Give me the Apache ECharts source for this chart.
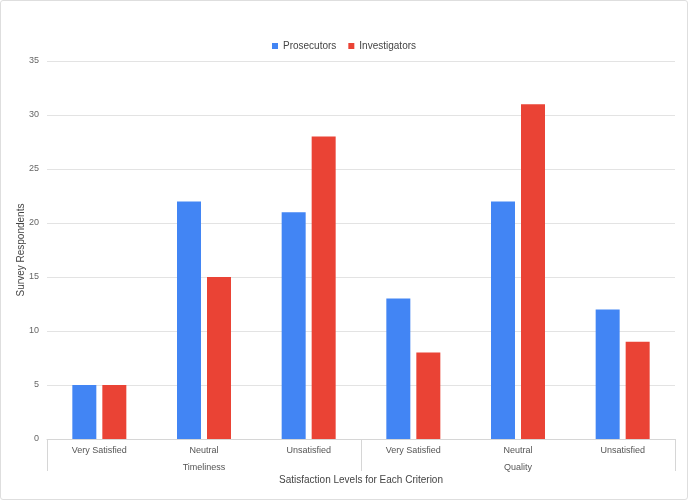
<!DOCTYPE html>
<html><head><meta charset="utf-8">
<script src="https://cdn.jsdelivr.net/npm/echarts@6/dist/echarts.min.js"></script>
<style>
html,body{margin:0;padding:0;background:#fff;}
#c{position:absolute;left:0;top:0;width:686px;height:498px;border:1px solid #dedede;border-radius:3px;}
</style></head>
<body><div id="c"></div>
<script>
const categories = ['Very Satisfied','Neutral','Unsatisfied','Very Satisfied','Neutral','Unsatisfied'];
const groups = ['Timeliness','Quality'];
const prosecutors = [5,22,21,13,22,12];
const investigators = [5,15,28,8,31,9];
const yTicks = [0,5,10,15,20,25,30,35];

const chart = echarts.init(document.getElementById('c'));
const font = '"Liberation Sans", Arial, sans-serif';
chart.setOption({
  animation:false,
  textStyle:{fontFamily:font},
  legend:{top:35,left:'center',itemWidth:6,itemHeight:6,itemGap:12,icon:'rect',
    textStyle:{fontSize:10,color:'#444',fontFamily:font},
    data:['Prosecutors','Investigators']},
  grid:{left:46,right:12,top:60,bottom:60,containLabel:false,outerBoundsMode:'none'},
  xAxis:[
    {type:'category',data:categories,
     axisLine:{show:true,lineStyle:{color:'#d6d6d6'}},
     axisTick:{show:false},
     axisLabel:{margin:7,fontSize:9,color:'#555',fontFamily:font,interval:0}},
    {type:'category',data:groups,position:'bottom',
     axisLine:{show:false},
     axisTick:{show:true,length:32,lineStyle:{color:'#d6d6d6'}},
     axisLabel:{margin:24,fontSize:9,color:'#555',fontFamily:font},
     name:'Satisfaction Levels for Each Criterion',nameLocation:'middle',nameGap:36,nameMoveOverlap:false,
     nameTextStyle:{fontSize:10,color:'#444',fontFamily:font}}
  ],
  yAxis:{type:'value',min:yTicks[0],max:yTicks[yTicks.length-1],interval:5,
    axisLine:{show:false},axisTick:{show:false},
    splitLine:{lineStyle:{color:'#e3e3e3'}},
    axisLabel:{margin:8,fontSize:9,color:'#666',fontFamily:font},
    name:'Survey Respondents',nameLocation:'middle',nameGap:21,nameMoveOverlap:false,
    nameTextStyle:{fontSize:10,color:'#444',fontFamily:font}},
  series:[
    {name:'Prosecutors',type:'bar',data:prosecutors,barWidth:24,barGap:'25%',itemStyle:{color:'#4285F4'}},
    {name:'Investigators',type:'bar',data:investigators,barWidth:24,barGap:'25%',itemStyle:{color:'#EA4335'}}
  ]
});
</script></body></html>
